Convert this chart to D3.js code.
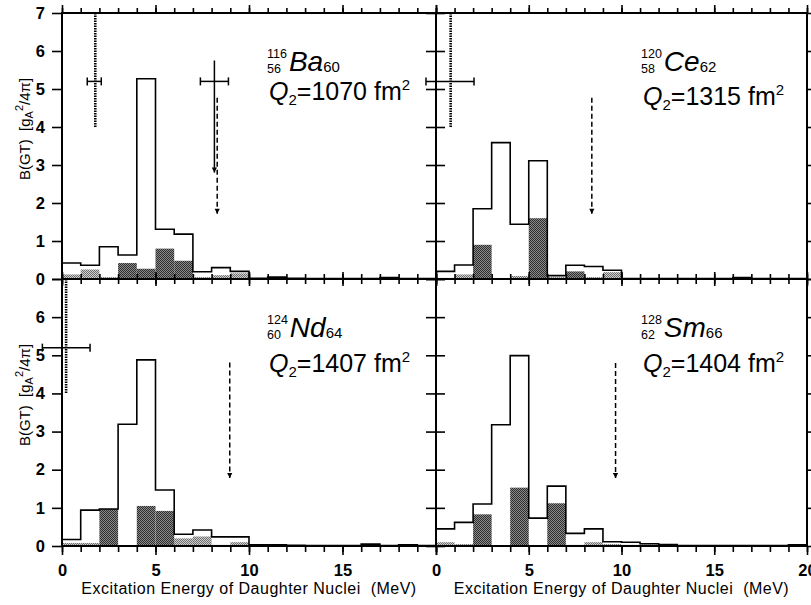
<!DOCTYPE html>
<html lang="en">
<head>
<meta charset="UTF-8">
<title>B(GT) distributions</title>
<script src="https://d3js.org/d3.v7.min.js"></script>
<style>
  body { margin: 0; background: #fff; }
  svg { display: block; font-family: "Liberation Sans", Arial, Helvetica, sans-serif; }
</style>
</head>
<body>
<svg></svg>
<script>
const width = 811, height = 605;

// 1 MeV bins, lower edges
const bins = d3.range(0, 20);

const symbols = ["Ba", "Ce", "Nd", "Sm"];
const massNumbers = [116, 120, 124, 128];
const protonNumbers = [56, 58, 60, 62];
const neutronNumbers = [60, 62, 64, 66];
const q2Values = [1070, 1315, 1407, 1404];

// total B(GT) per bin (open histogram)
const totalBa = [0.42, 0.36, 0.85, 0.63, 5.27, 1.31, 1.18, 0.19, 0.30, 0.20, 0.02, 0.05, 0.02, 0.01, 0.01, 0.01, 0.01, 0.04, 0.01, 0.01];
const totalCe = [0.20, 0.37, 1.85, 3.59, 1.44, 3.11, 0.09, 0.36, 0.33, 0.23, 0.01, 0.01, 0.01, 0.01, 0.01, 0.01, 0.04, 0.01, 0.01, 0.01];
const totalNd = [0.17, 0.94, 0.97, 3.19, 4.88, 1.47, 0.31, 0.42, 0.24, 0.24, 0.03, 0.03, 0.02, 0.01, 0.01, 0.01, 0.05, 0.01, 0.03, 0.01];
const totalSm = [0.45, 0.62, 1.10, 3.18, 4.99, 0.73, 1.57, 0.33, 0.45, 0.11, 0.10, 0.06, 0.035, 0.01, 0.01, 0.01, 0.01, 0.01, 0.01, 0.03];

// shaded parts: dark and light stipple
const darkBa = [0, 0, 0, 0.42, 0.27, 0.80, 0.48, 0, 0, 0, 0, 0, 0, 0, 0, 0, 0, 0, 0, 0];
const lightBa = [0.12, 0.25, 0.05, 0, 0, 0, 0, 0.05, 0.10, 0.15, 0.02, 0.03, 0.02, 0, 0, 0, 0, 0.03, 0, 0];
const darkCe = [0, 0, 0.90, 0, 0, 1.60, 0, 0.20, 0, 0, 0, 0, 0, 0, 0, 0, 0, 0, 0, 0];
const lightCe = [0.03, 0.12, 0, 0.02, 0.08, 0, 0.05, 0, 0.05, 0.18, 0, 0, 0, 0, 0, 0, 0.03, 0, 0, 0];
const darkNd = [0, 0, 0.97, 0, 1.05, 0.92, 0, 0, 0, 0, 0, 0, 0, 0, 0, 0, 0, 0, 0, 0];
const lightNd = [0.08, 0.08, 0, 0.02, 0, 0, 0.20, 0.25, 0.03, 0.10, 0, 0, 0, 0, 0, 0, 0.03, 0, 0.02, 0];
const darkSm = [0, 0, 0.83, 0, 1.53, 0, 1.12, 0, 0, 0, 0, 0, 0, 0, 0, 0, 0, 0, 0, 0];
const lightSm = [0.10, 0.05, 0, 0.02, 0, 0.02, 0, 0.03, 0.10, 0.05, 0.03, 0.04, 0.02, 0, 0, 0, 0, 0, 0, 0.02];

const totals = [totalBa, totalCe, totalNd, totalSm];
const darks = [darkBa, darkCe, darkNd, darkSm];
const lights = [lightBa, lightCe, lightNd, lightSm];

// annotations (MeV / B(GT) units)
const dottedX = [1.78, 0.79, 0.22, null];
const dottedY = [7, 4.0];
const errBarY = 5.2;
const errBars = [[[1.35, 2.1], [7.4, 8.9]], [[-0.54, 2.05]], [[-1.05, 1.5]], []];
const solidArrowX = [8.15, null, null, null];
const solidArrowY = [5.75, 2.8];
const dashedArrowX = [8.3, 8.4, 8.97, 9.68];
const dashedArrowTop = [4.77, 4.77, 4.81, 4.8];
const dashedArrowEnd = [1.72, 1.72, 1.78, 1.78];

const xTicks = d3.range(0, 21);
const xMajor = [0, 5, 10, 15, 20];
const yTicks = d3.range(0, 8);

const colRanges = [[62, 436], [436, 807]];
const rowRanges = [[13, 279], [279, 546]];
const labelTop = [[58, 87], [58, 92], [58, 93], [58, 93]]; // symbol / Q2 baselines from panel top

const svg = d3.select("svg").attr("width", width).attr("height", height);
const defs = svg.append("defs");

function stipple(id, bg, fg) {
  const p = defs.append("pattern").attr("id", id)
    .attr("width", 2).attr("height", 2).attr("patternUnits", "userSpaceOnUse");
  p.append("rect").attr("width", 2).attr("height", 2).attr("fill", bg);
  p.append("rect").attr("width", 1).attr("height", 1).attr("fill", fg);
  p.append("rect").attr("x", 1).attr("y", 1).attr("width", 1).attr("height", 1).attr("fill", fg);
}
stipple("dark", "#8a8a8a", "#2e2e2e");
stipple("light", "#cfcfcf", "#6e6e6e");

defs.append("marker").attr("id", "head")
  .attr("viewBox", "-6 -3 7 6").attr("refX", 0).attr("refY", 0)
  .attr("markerWidth", 7).attr("markerHeight", 6)
  .attr("markerUnits", "userSpaceOnUse").attr("orient", "auto")
  .append("path").attr("d", "M-5,-2.6L0,0L-5,2.6Z").attr("fill", "#000");

function styleAxis(s) {
  s.select(".domain").remove();
  s.selectAll("line").attr("stroke", "#000").attr("stroke-width", 1.6);
  s.attr("font-family", null).attr("font-size", 16.5).attr("font-weight", "bold");
  s.selectAll("text").attr("fill", "#000");
}

symbols.forEach((sym, i) => {
  const col = i % 2, row = Math.floor(i / 2);
  const x = d3.scaleLinear().domain([0, 20]).range(colRanges[col]);
  const y = d3.scaleLinear().domain([0, 7]).range([rowRanges[row][1], rowRanges[row][0]]);
  const g = svg.append("g");
  const bw = x(1) - x(0);

  // shaded components
  g.append("g").selectAll("rect.l").data(bins).join("rect")
    .attr("x", b => x(b)).attr("width", bw)
    .attr("y", b => y(lights[i][b])).attr("height", b => y(0) - y(lights[i][b]))
    .attr("fill", "url(#light)");
  g.append("g").selectAll("rect.d").data(bins).join("rect")
    .attr("x", b => x(b)).attr("width", bw)
    .attr("y", b => y(lights[i][b] + darks[i][b]))
    .attr("height", b => y(lights[i][b]) - y(lights[i][b] + darks[i][b]))
    .attr("fill", "url(#dark)");

  // total histogram outline
  const pts = bins.flatMap(b => [[b, totals[i][b]], [b + 1, totals[i][b]]]);
  g.append("path")
    .attr("d", d3.line().x(d => x(d[0])).y(d => y(d[1]))(pts))
    .attr("fill", "none").attr("stroke", "#000").attr("stroke-width", 1.6);

  // axes (ticks all point outward)
  const top = rowRanges[row][0], bot = rowRanges[row][1];
  g.append("g").attr("transform", `translate(0,${bot})`)
    .call(d3.axisBottom(x).tickValues(xTicks).tickSize(row ? 6 : 5).tickFormat(""))
    .call(styleAxis);
  g.append("g").attr("transform", `translate(0,${bot})`)
    .call(d3.axisBottom(x).tickValues(xMajor).tickSize(row ? 9 : 7).tickPadding(9)
      .tickFormat(d => (row === 1 && !(col === 0 && d === 20)) ? d : ""))
    .call(styleAxis);
  g.append("g").attr("transform", `translate(0,${top})`)
    .call(d3.axisTop(x).tickValues(xTicks).tickSize(5).tickFormat(""))
    .call(styleAxis);
  g.append("g").attr("transform", `translate(0,${top})`)
    .call(d3.axisTop(x).tickValues(xMajor).tickSize(row ? 7 : 8).tickFormat(""))
    .call(styleAxis);
  g.append("g").attr("transform", `translate(${x(0)},0)`)
    .call(d3.axisLeft(y).tickValues(yTicks).tickSize(10).tickPadding(7)
      .tickFormat(d => (col === 0 && !(row === 1 && d === 7)) ? d : ""))
    .call(styleAxis);
  g.append("g").attr("transform", `translate(${x(20)},0)`)
    .call(d3.axisRight(y).tickValues(yTicks).tickSize(col ? 5 : 9).tickFormat(""))
    .call(styleAxis);

  g.append("rect")
    .attr("x", x(0)).attr("y", top).attr("width", x(20) - x(0)).attr("height", bot - top)
    .attr("fill", "none").attr("stroke", "#000").attr("stroke-width", 2);

  // dotted line with error bars
  if (dottedX[i] !== null) {
    g.append("line")
      .attr("x1", x(dottedX[i])).attr("x2", x(dottedX[i]))
      .attr("y1", y(dottedY[0])).attr("y2", y(dottedY[1]))
      .attr("stroke", "#000").attr("stroke-width", 2.6).attr("stroke-dasharray", "1.5,1");
  }
  errBars[i].forEach(([a, b]) => {
    const e = g.append("g").attr("stroke", "#000").attr("stroke-width", 1.5);
    e.append("line").attr("x1", x(a)).attr("x2", x(b)).attr("y1", y(errBarY)).attr("y2", y(errBarY));
    [a, b].forEach(v => e.append("line").attr("x1", x(v)).attr("x2", x(v))
      .attr("y1", y(errBarY) - 4).attr("y2", y(errBarY) + 4));
  });
  if (solidArrowX[i] !== null) {
    g.append("line")
      .attr("x1", x(solidArrowX[i])).attr("x2", x(solidArrowX[i]))
      .attr("y1", y(solidArrowY[0])).attr("y2", y(solidArrowY[1]))
      .attr("stroke", "#000").attr("stroke-width", 1.5).attr("marker-end", "url(#head)");
  }
  g.append("line")
    .attr("x1", x(dashedArrowX[i])).attr("x2", x(dashedArrowX[i]))
    .attr("y1", y(dashedArrowTop[i])).attr("y2", y(dashedArrowEnd[i]))
    .attr("stroke", "#000").attr("stroke-width", 1.5).attr("stroke-dasharray", "5,3")
    .attr("marker-end", "url(#head)");

  // nucleus label
  const lx = x(0) + 205;
  const symY = top + labelTop[i][0], qY = top + labelTop[i][1];
  const mass = g.append("text").attr("x", lx).attr("y", symY - 13)
    .attr("font-size", 12.5).text(massNumbers[i]);
  const z = g.append("text").attr("x", lx).attr("y", symY + 1.5)
    .attr("font-size", 12.5).text(protonNumbers[i]);
  const w = Math.max(mass.node().getComputedTextLength(), z.node().getComputedTextLength());
  const st = g.append("text").attr("x", lx + w + 2).attr("y", symY).attr("font-size", 28);
  st.append("tspan").attr("font-style", "italic").text(sym);
  st.append("tspan").attr("font-size", 15).attr("dy", 1).text(neutronNumbers[i]);

  const q = g.append("text").attr("x", x(0) + 207).attr("y", qY).attr("font-size", 25);
  q.append("tspan").attr("font-style", "italic").text("Q");
  q.append("tspan").attr("font-size", 15).attr("dy", 5).text("2");
  q.append("tspan").attr("dy", -5).text(`=${q2Values[i]} fm`);
  q.append("tspan").attr("font-size", 15).attr("dy", -10).text("2");

  // axis titles
  if (col === 0) {
    const yt = g.append("text")
      .attr("transform", `translate(30,${top + 116}) rotate(-90)`)
      .attr("text-anchor", "middle").attr("font-size", 15);
    yt.append("tspan").text("B(GT)\u00a0\u00a0[g");
    yt.append("tspan").attr("font-size", 11).attr("dy", 3).text("A");
    yt.append("tspan").attr("font-size", 11).attr("dy", -10).text("2");
    yt.append("tspan").attr("dy", 7).text("/4\u03c0]");
  }
  if (row === 1) {
    g.append("text").attr("x", (x(0) + x(20)) / 2).attr("y", 594)
      .attr("text-anchor", "middle").attr("font-size", 16).attr("letter-spacing", 0.5)
      .text("Excitation Energy of Daughter Nuclei\u00a0\u00a0(MeV)");
  }
});
</script>
</body>
</html>
